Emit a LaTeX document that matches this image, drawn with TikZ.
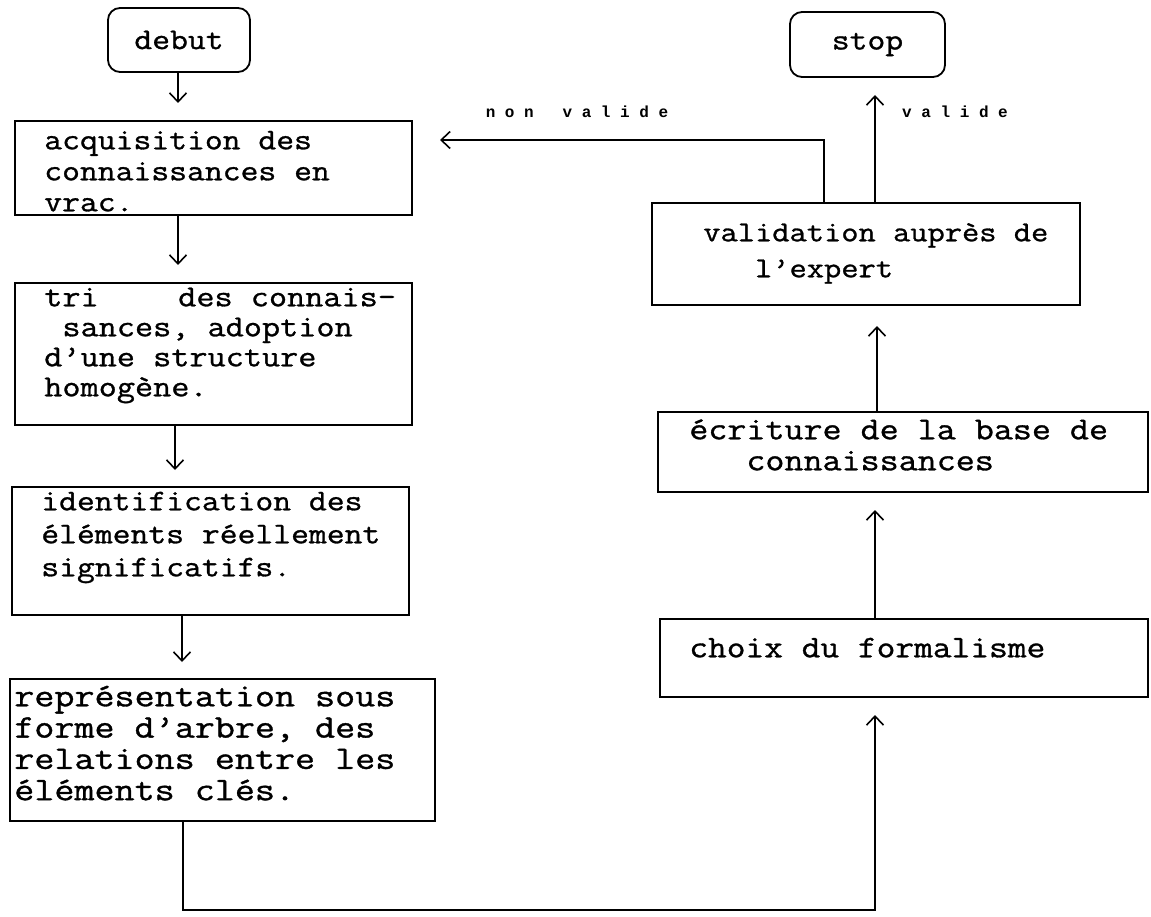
\documentclass[tikz,border=0pt]{standalone}
\usepackage{fontspec}
\usetikzlibrary{arrows.meta}
\newfontfamily\tagfont{Liberation Mono}
\newfontfamily\boxtt{Latin Modern Mono}[FakeStretch=1.155,FakeBold=1]
\newfontfamily\widett{Latin Modern Mono}[FakeStretch=1.18,FakeBold=1]
% fixed height for the first line, so each text block sits on a known baseline
\newcommand\lineone{\rule{0pt}{30pt}}

\begin{document}
\begin{tikzpicture}[x=1pt,y=-1pt,
  box/.style={draw, line width=1.8pt, inner sep=0pt, rectangle},
  termbox/.style={box, rounded corners=12pt, font=\boxtt\fontsize{30}{30}\selectfont},
  txt/.style n args={2}{anchor=north west, inner sep=0pt, align=left,
              font=\boxtt\fontsize{#1}{#2}\selectfont},
  wide/.style={anchor=north west, inner sep=0pt, align=left,
              font=\widett\fontsize{33}{#1}\selectfont},
  tag/.style={inner sep=0pt, font=\tagfont\bfseries\fontsize{16}{16}\selectfont},
  arr/.style={line width=1.6pt, -{Straight Barb[length=9pt,width=17pt,line width=1.6pt]}}
]
\useasboundingbox (0,0) rectangle (1151,917);

% ---- left column ----
\node[termbox, minimum width=142pt, minimum height=64pt] (debut) at (179,40) {debut};
\node[box, minimum width=397pt, minimum height=94pt] (acq) at (213.5,168) {};
\node[txt={30}{31}] (acqT) at ([shift={(30,-1)}]acq.north west)
  {\lineone acquisition des\\connaissances en\\vrac.};
\node[box, minimum width=397pt, minimum height=142pt] (tri) at (213.5,354) {};
\node[txt={30.5}{30}] (triT) at ([shift={(30,-6)}]tri.north west)
  {\lineone tri\ \ \ \ \kern7pt des connais-\\\ sances, adoption\\d’une structure\\homogène.};
\node[box, minimum width=397pt, minimum height=128pt] (ident) at (210.5,551) {};
\node[txt={30}{33}] (identT) at ([shift={(30,-6)}]ident.north west)
  {\lineone identification des\\éléments réellement\\significatifs.};
\node[box, minimum width=425pt, minimum height=142pt] (repr) at (222.5,750) {};
\node[wide=31.3] (reprT) at ([shift={(5,-2)}]repr.north west)
  {\lineone représentation sous\\forme d’arbre, des\\relations entre les\\éléments clés.};

% ---- right column ----
\node[termbox, minimum width=155pt, minimum height=65pt] (stop) at (867.5,44.5) {stop};
\node[box, minimum width=428pt, minimum height=102pt] (valid) at (866,254) {};
\node[txt={29}{36}] (validT) at ([shift={(52,9)}]valid.north west)
  {\lineone validation auprès de\\\ \ \ l’expert};
\node[box, minimum width=490pt, minimum height=80pt] (ecr) at (903,452) {};
\node[txt={32}{31}] (ecrT) at ([shift={(32,-2)}]ecr.north west)
  {\lineone écriture de la base de\\\ \ \ connaissances};
\node[box, minimum width=488pt, minimum height=78pt] (choix) at (904,658) {};
\node[txt={31.5}{31}] (choixT) at ([shift={(30,9)}]choix.north west)
  {\lineone choix du formalisme};

% ---- connector end points ----
\coordinate (acqIn)   at (178,103);
\coordinate (triIn)   at (178,265);
\coordinate (identIn) at (175,470);
\coordinate (reprIn)  at (182,662);
\coordinate (loop)    at (183,910);
\coordinate (choixIn) at (875,715);
\coordinate (ecrIn)   at (875,510);
\coordinate (validIn) at (877,326);
\coordinate (stopIn)  at (875,95);
\coordinate (nvTurn)  at (824,140);
\coordinate (acqBack) at (440,140);

% ---- connectors ----
\draw[arr] (debut.south -| acqIn) -- (acqIn);
\draw[arr] (acq.south -| triIn) -- (triIn);
\draw[arr] (tri.south -| identIn) -- (identIn);
\draw[arr] (ident.south -| reprIn) -- (reprIn);
\draw[arr] (repr.south -| loop) -- (loop) -- (loop -| choixIn) -- (choixIn);
\draw[arr] (choix.north -| ecrIn) -- (ecrIn);
\draw[arr] (ecr.north -| validIn) -- (validIn);
\draw[arr] (valid.north -| stopIn) -- (stopIn);
\draw[arr] (valid.north -| nvTurn) -- (nvTurn) -- (acqBack);

% ---- branch labels ----
\node[tag] (nonvalide) at (577,112) {n~o~n~~~v~a~l~i~d~e};
\node[tag] (valide) at (955,112) {v~a~l~i~d~e};
\end{tikzpicture}
\end{document}
